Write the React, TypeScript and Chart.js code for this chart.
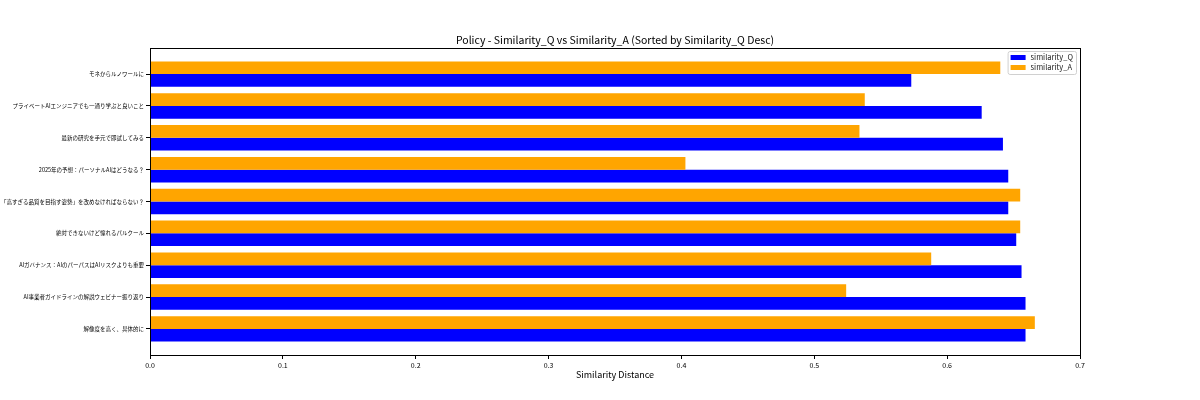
import { useEffect, useRef } from 'react';
import { Chart, registerables } from 'chart.js';

Chart.register(...registerables);

// bottom to top, like the matplotlib barh
const labels = [
  '解像度を高く、具体的に',
  'AI事業者ガイドラインの解説ウェビナー振り返り',
  'AIガバナンス：AIのパーパスはAIリスクよりも重要',
  '絶対できないけど憧れるパルクール',
  '「高すぎる品質を目指す姿勢」を改めなければならない？',
  '2025年の予想：パーソナルAIはどうなる？',
  '最新の研究を手元で即試してみる',
  'プライベートAIエンジニアでも一通り学ぶと良いこと',
  'モネからルノワールに',
];
const similarityQ = [0.659, 0.659, 0.656, 0.652, 0.646, 0.646, 0.642, 0.626, 0.573];
const similarityA = [0.666, 0.524, 0.588, 0.655, 0.655, 0.403, 0.534, 0.538, 0.640];
const xTicks = [0, 0.1, 0.2, 0.3, 0.4, 0.5, 0.6, 0.7];
const title = 'Policy - Similarity_Q vs Similarity_A (Sorted by Similarity_Q Desc)';

const FONT = '"Noto Sans CJK JP", "Noto Sans", sans-serif';
const BLUE = '#0000ff';
const ORANGE = '#ffa500';

// axes frame on all four sides, title centred over the axes
const framePlugin = {
  id: 'frame',
  afterDatasetsDraw(chart: Chart) {
    const { ctx, chartArea } = chart;
    ctx.save();
    ctx.strokeStyle = '#000';
    ctx.lineWidth = 1;
    ctx.strokeRect(
      Math.round(chartArea.left) + 0.5,
      Math.round(chartArea.top) + 0.5,
      Math.round(chartArea.right - chartArea.left),
      Math.round(chartArea.bottom - chartArea.top)
    );
    ctx.fillStyle = '#000';
    ctx.font = `10.5px ${FONT}`;
    ctx.textAlign = 'center';
    ctx.textBaseline = 'middle';
    ctx.fillText(title, (chartArea.left + chartArea.right) / 2, chartArea.top - 8);
    ctx.restore();
  },
};

// matplotlib style legend inside the upper right corner
const legendPlugin = {
  id: 'innerLegend',
  afterDraw(chart: Chart) {
    const { ctx, chartArea } = chart;
    const items = [
      { text: 'similarity_Q', color: BLUE },
      { text: 'similarity_A', color: ORANGE },
    ];
    ctx.save();
    ctx.font = `7.5px ${FONT}`;
    const textW = Math.max(...items.map((i) => ctx.measureText(i.text).width));
    const w = 3 + 15 + 5 + textW + 3;
    const h = 23;
    const x = chartArea.right - 4 - w;
    const y = chartArea.top + 3;
    ctx.fillStyle = 'rgba(255,255,255,0.8)';
    ctx.strokeStyle = '#d0d0d0';
    ctx.lineWidth = 1;
    ctx.beginPath();
    ctx.roundRect(x + 0.5, y + 0.5, w, h, 2);
    ctx.fill();
    ctx.stroke();
    items.forEach((item, i) => {
      const cy = y + 6.5 + i * 10;
      ctx.fillStyle = item.color;
      ctx.fillRect(x + 3, cy - 2.5, 15, 5);
      ctx.fillStyle = '#222';
      ctx.textBaseline = 'middle';
      ctx.textAlign = 'left';
      ctx.fillText(item.text, x + 3 + 15 + 5, cy);
    });
    ctx.restore();
  },
};

const App = () => {
  const canvasRef = useRef<HTMLCanvasElement>(null);

  useEffect(() => {
    if (!canvasRef.current) return;

    const chart = new Chart(canvasRef.current, {
      type: 'bar',
      data: {
        datasets: [
          {
            label: 'similarity_A',
            data: similarityA.map((v, i) => ({ x: v, y: i })),
            backgroundColor: ORANGE,
            borderWidth: 0,
          },
          {
            label: 'similarity_Q',
            data: similarityQ.map((v, i) => ({ x: v, y: i })),
            backgroundColor: BLUE,
            borderWidth: 0,
          },
        ],
      },
      options: {
        indexAxis: 'y',
        responsive: false,
        animation: false,
        devicePixelRatio: 1,
        categoryPercentage: 0.8,
        barPercentage: 1,
        layout: { padding: { left: 0, right: 120, top: 48, bottom: 0 } },
        plugins: {
          legend: { display: false },
          tooltip: { enabled: false },
          title: { display: false },
        },
        scales: {
          x: {
            type: 'linear',
            min: 0,
            max: 0.7,
            afterFit: (scale: any) => {
              scale.height = 45;
            },
            afterBuildTicks: (axis: any) => {
              axis.ticks = xTicks.map((v) => ({ value: v }));
            },
            ticks: {
              color: '#000',
              font: { family: FONT, size: 7 },
              padding: 2,
              maxRotation: 0,
              callback: (v: any) => Number(v).toFixed(1),
            },
            grid: {
              display: true,
              drawOnChartArea: false,
              drawTicks: true,
              tickLength: 4,
              color: '#000',
            },
            border: { display: false },
            title: {
              display: true,
              text: 'Similarity Distance',
              color: '#000',
              font: { family: FONT, size: 9, lineHeight: 1.2 },
              padding: { top: 2, bottom: 20 },
            },
          },
          y: {
            type: 'linear',
            min: -0.82,
            max: 8.82,
            offset: false,
            afterFit: (scale: any) => {
              scale.width = 150;
            },
            afterBuildTicks: (axis: any) => {
              axis.ticks = labels.map((_, i) => ({ value: i }));
            },
            ticks: {
              color: '#000',
              font: { family: FONT, size: 5.5 },
              padding: 2,
              autoSkip: false,
              callback: (v: any) => labels[Math.round(Number(v))] ?? '',
            },
            grid: {
              display: true,
              offset: false,
              drawOnChartArea: false,
              drawTicks: true,
              tickLength: 4,
              color: '#000',
            },
            border: { display: false },
          },
        },
      },
      plugins: [framePlugin, legendPlugin],
    });

    return () => {
      chart.destroy();
    };
  }, []);

  return (
    <div style={{ position: 'fixed', left: 0, top: 0, width: 1200, height: 400, background: '#fff' }}>
      <canvas ref={canvasRef} width={1200} height={400} />
    </div>
  );
};

export default App;
